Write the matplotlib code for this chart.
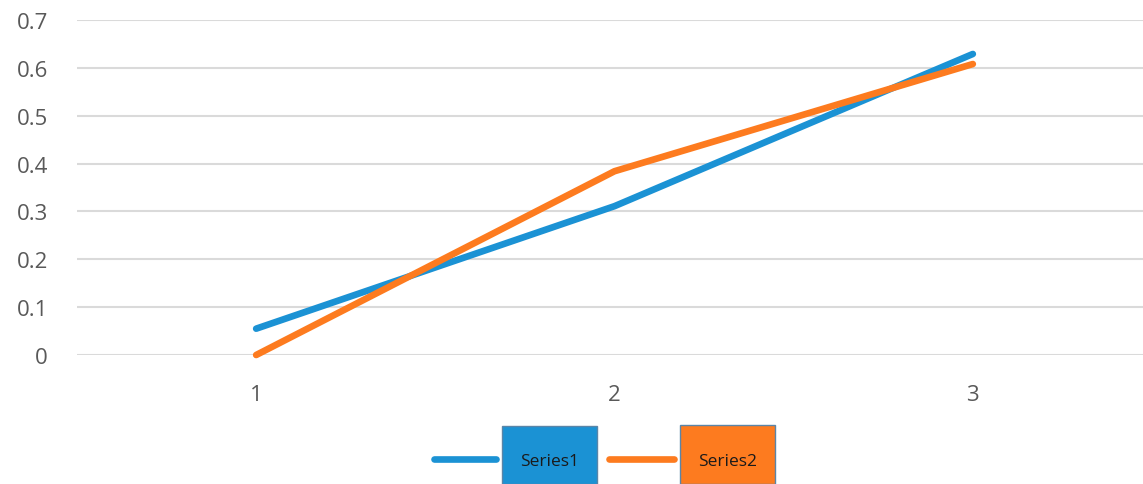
import matplotlib
matplotlib.use("Agg")
import matplotlib.pyplot as plt
from matplotlib.lines import Line2D
from matplotlib.patches import Rectangle

categories = [1, 2, 3]
series1 = [0.055, 0.311, 0.629]
series2 = [0.0, 0.384, 0.608]
series_names = ["Series1", "Series2"]
y_ticks = [0, 0.1, 0.2, 0.3, 0.4, 0.5, 0.6, 0.7]
y_tick_labels = ["0", "0.1", "0.2", "0.3", "0.4", "0.5", "0.6", "0.7"]

blue = "#1b92d4"
orange = "#fd7b1f"
W, H = 1143, 485

plt.rcParams["font.family"] = ["Open Sans", "DejaVu Sans"]

fig = plt.figure(figsize=(W / 100, H / 100), dpi=100)
ax = fig.add_axes([77 / W, (H - 356) / H, 1075 / W, 335 / H])

for vals, col in zip([series1, series2], [blue, orange]):
    ax.plot(categories, vals, color=col, lw=4.8, solid_capstyle="round",
            solid_joinstyle="round", zorder=3, clip_on=False)

ax.set_xlim(0.5, 3.5)
ax.set_ylim(0, 0.7)
ax.set_yticks(y_ticks)
ax.set_yticklabels(y_tick_labels)
ax.set_xticks(categories)
ax.set_xticklabels([str(c) for c in categories])
ax.grid(axis="y", color="#dadada", lw=1.5)
ax.set_axisbelow(True)
for s in ax.spines.values():
    s.set_visible(False)
ax.tick_params(axis="both", length=0, labelsize=16, labelcolor="#595959")
ax.tick_params(axis="y", pad=21)
ax.tick_params(axis="x", pad=21)

# legend drawn as line samples with filled label boxes
def legend_item(x0, x1, bx, by, name, col):
    yc = (H - 460) / H
    fig.add_artist(Line2D([x0 / W, x1 / W], [yc, yc], color=col, lw=4.8,
                          solid_capstyle="round", transform=fig.transFigure))
    fig.add_artist(Rectangle((bx / W, 0), 95 / W, (H - by) / H,
                             facecolor=col, edgecolor="#5a85a8", lw=1.0,
                             transform=fig.transFigure))
    fig.text((bx + 48) / W, (H - 462) / H, name, ha="center", va="center",
             fontsize=12.5, color="#1a1a1a")

legend_item(434, 496, 502, 427, series_names[0], blue)
legend_item(609, 674, 680, 426, series_names[1], orange)

fig.savefig("out.png", dpi=100)
